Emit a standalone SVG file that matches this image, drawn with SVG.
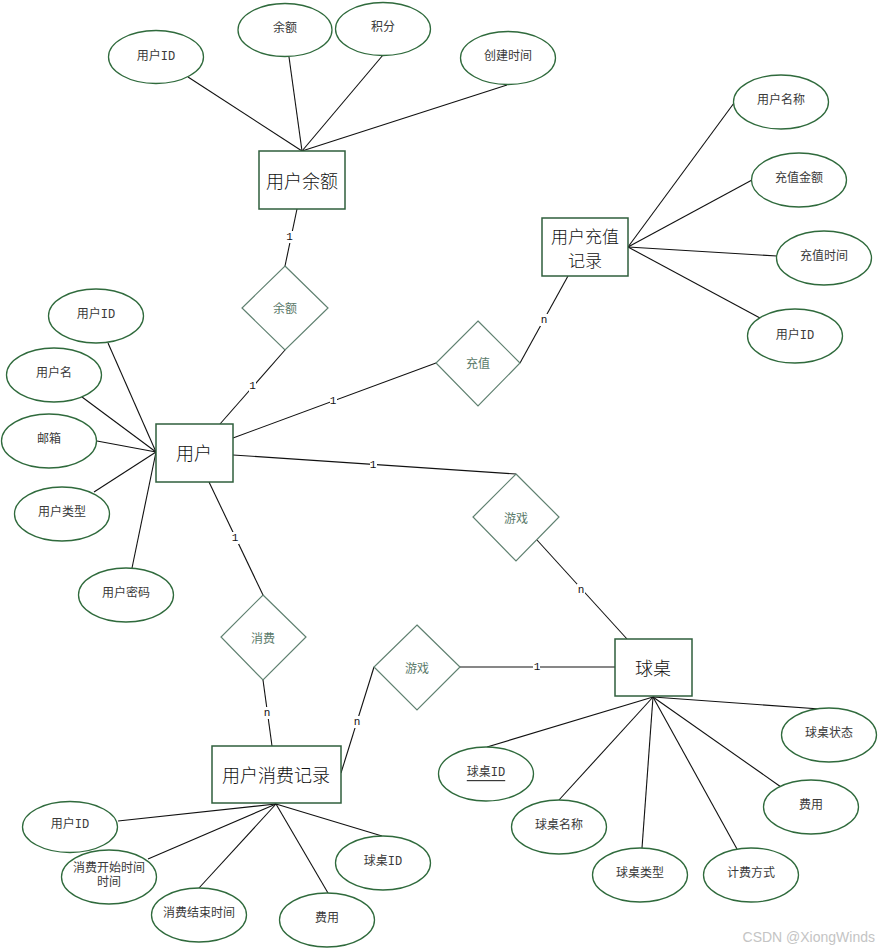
<svg xmlns="http://www.w3.org/2000/svg" width="879" height="951" viewBox="0 0 879 951">
<style>
.ent{fill:#fff;stroke:#2f5f3c;stroke-width:1.5}
.rel{fill:#fff;stroke:#5f8070;stroke-width:1.2}
.att{fill:#fff;stroke:#2f6a3c;stroke-width:1.3}
.et{font-family:"Noto Sans CJK SC",sans-serif;font-size:18px;font-weight:300;fill:#111;text-anchor:middle;dominant-baseline:central}
.rt{font-family:"Noto Sans CJK SC",sans-serif;font-size:12px;fill:#5a7a6a;text-anchor:middle;dominant-baseline:central}
.at{font-family:"Liberation Mono","Noto Sans CJK SC",monospace;font-size:12px;fill:#3a3a3a;text-anchor:middle;dominant-baseline:central}
.ln{stroke:#111;stroke-width:1.1;fill:none}
.card{font-family:"Liberation Mono",monospace;font-size:11px;fill:#111;text-anchor:middle;dominant-baseline:central}
.cbg{fill:#fff}
</style>
<g id="connectors">
<line class="ln" x1="188" y1="77" x2="302" y2="151"/>
<line class="ln" x1="289" y1="57" x2="302" y2="151"/>
<line class="ln" x1="383" y1="55" x2="302" y2="151"/>
<line class="ln" x1="507" y1="85" x2="302" y2="151"/>
<line class="ln" x1="734" y1="103" x2="628" y2="247"/>
<line class="ln" x1="752" y1="180" x2="628" y2="247"/>
<line class="ln" x1="777" y1="256" x2="628" y2="247"/>
<line class="ln" x1="760" y1="318" x2="628" y2="247"/>
<line class="ln" x1="108" y1="343" x2="156" y2="452"/>
<line class="ln" x1="82" y1="397" x2="156" y2="452"/>
<line class="ln" x1="97" y1="441" x2="156" y2="452"/>
<line class="ln" x1="94" y1="492" x2="156" y2="452"/>
<line class="ln" x1="132" y1="568" x2="156" y2="452"/>
<line class="ln" x1="118" y1="821" x2="276" y2="804"/>
<line class="ln" x1="148" y1="859" x2="276" y2="804"/>
<line class="ln" x1="199" y1="888" x2="276" y2="804"/>
<line class="ln" x1="328" y1="893" x2="276" y2="804"/>
<line class="ln" x1="382" y1="836" x2="276" y2="804"/>
<line class="ln" x1="487" y1="747" x2="653" y2="697"/>
<line class="ln" x1="559" y1="800" x2="653" y2="697"/>
<line class="ln" x1="642" y1="848" x2="653" y2="697"/>
<line class="ln" x1="737" y1="849" x2="653" y2="697"/>
<line class="ln" x1="781" y1="787" x2="653" y2="697"/>
<line class="ln" x1="820" y1="709" x2="653" y2="697"/>
<line class="ln" x1="297" y1="209" x2="285" y2="266"/>
<line class="ln" x1="285" y1="350" x2="220" y2="424"/>
<line class="ln" x1="233" y1="438" x2="436" y2="363"/>
<line class="ln" x1="520" y1="363" x2="568" y2="276"/>
<line class="ln" x1="233" y1="455" x2="516" y2="474"/>
<line class="ln" x1="537" y1="540" x2="627" y2="639"/>
<line class="ln" x1="209" y1="482" x2="263" y2="595"/>
<line class="ln" x1="263" y1="680" x2="272" y2="746"/>
<line class="ln" x1="374" y1="667" x2="341" y2="773"/>
<line class="ln" x1="460" y1="667" x2="615" y2="667"/>
<rect class="cbg" x="286" y="231" width="7" height="12"/><text class="card" x="289.5" y="237">1</text>
<rect class="cbg" x="249" y="380" width="7" height="12"/><text class="card" x="252.5" y="386">1</text>
<rect class="cbg" x="330" y="395" width="7" height="12"/><text class="card" x="333" y="401">1</text>
<rect class="cbg" x="540" y="314" width="8" height="12"/><text class="card" x="544" y="320">n</text>
<rect class="cbg" x="370" y="459" width="7" height="12"/><text class="card" x="373" y="465">1</text>
<rect class="cbg" x="577" y="584" width="8" height="12"/><text class="card" x="581" y="590">n</text>
<rect class="cbg" x="232" y="532" width="7" height="12"/><text class="card" x="235" y="538">1</text>
<rect class="cbg" x="263" y="707" width="8" height="12"/><text class="card" x="267" y="713">n</text>
<rect class="cbg" x="353" y="716" width="8" height="12"/><text class="card" x="357" y="722">n</text>
<rect class="cbg" x="533" y="661" width="7" height="12"/><text class="card" x="537" y="667">1</text>
</g>
<g id="e_yonghuyue"><rect class="ent" x="259" y="151" width="86" height="58"/><text class="et" x="302" y="180">用户余额</text></g>
<g id="e_chongzhi"><rect class="ent" x="542" y="218" width="86" height="58"/><text class="et" x="585" y="235" style="font-size:17px">用户充值</text><text class="et" x="585" y="259" style="font-size:17px">记录</text></g>
<g id="e_yonghu"><rect class="ent" x="156" y="424" width="77" height="58"/><text class="et" x="194" y="452">用户</text></g>
<g id="e_qiuzhuo"><rect class="ent" x="615" y="639" width="77" height="57"/><text class="et" x="653" y="667">球桌</text></g>
<g id="e_xiaofei"><rect class="ent" x="212" y="746" width="129" height="57"/><text class="et" x="276" y="774">用户消费记录</text></g>
<g id="r_yue"><polygon class="rel" points="285,266 328,308 285,350 242,308"/><text class="rt" x="285" y="307">余额</text></g>
<g id="r_chongzhi"><polygon class="rel" points="478,321 520,363 478,406 436,363"/><text class="rt" x="478" y="362">充值</text></g>
<g id="r_youxi1"><polygon class="rel" points="516,474 559,517 516,561 473,517"/><text class="rt" x="516" y="517">游戏</text></g>
<g id="r_xiaofei"><polygon class="rel" points="263,595 306,637 263,680 221,637"/><text class="rt" x="263" y="637">消费</text></g>
<g id="r_youxi2"><polygon class="rel" points="417,625 460,667 417,710 374,667"/><text class="rt" x="417" y="667">游戏</text></g>
<g id="a_ye_id"><ellipse class="att" cx="156" cy="57" rx="47.5" ry="26.5"/><text class="at" x="156" y="57">用户ID</text></g>
<g id="a_ye_yue"><ellipse class="att" cx="285" cy="30" rx="47" ry="26.5"/><text class="at" x="285" y="29">余额</text></g>
<g id="a_ye_jf"><ellipse class="att" cx="383" cy="29" rx="47.5" ry="26.5"/><text class="at" x="383" y="28">积分</text></g>
<g id="a_ye_cj"><ellipse class="att" cx="508" cy="58" rx="47.5" ry="26.5"/><text class="at" x="508" y="57">创建时间</text></g>
<g id="a_cz_mc"><ellipse class="att" cx="781" cy="102" rx="47.5" ry="27"/><text class="at" x="781" y="101">用户名称</text></g>
<g id="a_cz_je"><ellipse class="att" cx="799" cy="180" rx="47.5" ry="27"/><text class="at" x="799" y="179">充值金额</text></g>
<g id="a_cz_sj"><ellipse class="att" cx="824" cy="258" rx="47.5" ry="27"/><text class="at" x="824" y="257">充值时间</text></g>
<g id="a_cz_id"><ellipse class="att" cx="795" cy="336" rx="47.5" ry="27"/><text class="at" x="795" y="336">用户ID</text></g>
<g id="a_yh_id"><ellipse class="att" cx="96" cy="316" rx="47.5" ry="27"/><text class="at" x="96" y="315">用户ID</text></g>
<g id="a_yh_m"><ellipse class="att" cx="54" cy="375" rx="47.5" ry="27"/><text class="at" x="54" y="374">用户名</text></g>
<g id="a_yh_yx"><ellipse class="att" cx="49" cy="441" rx="47.5" ry="27"/><text class="at" x="49" y="440">邮箱</text></g>
<g id="a_yh_lx"><ellipse class="att" cx="62" cy="514" rx="47.5" ry="27"/><text class="at" x="62" y="513">用户类型</text></g>
<g id="a_yh_mm"><ellipse class="att" cx="126" cy="595" rx="47.5" ry="27"/><text class="at" x="126" y="594">用户密码</text></g>
<g id="a_xf_id"><ellipse class="att" cx="70" cy="827" rx="47.5" ry="25.5"/><text class="at" x="70" y="825">用户ID</text></g>
<g id="a_xf_ks"><ellipse class="att" cx="109" cy="877" rx="47.5" ry="27"/><text class="at" x="109" y="869">消费开始时间</text><text class="at" x="109" y="883">时间</text></g>
<g id="a_xf_js"><ellipse class="att" cx="199" cy="915" rx="47.5" ry="27"/><text class="at" x="199" y="914">消费结束时间</text></g>
<g id="a_xf_fy"><ellipse class="att" cx="327" cy="920" rx="47.5" ry="27"/><text class="at" x="327" y="919">费用</text></g>
<g id="a_xf_qz"><ellipse class="att" cx="383" cy="863" rx="47.5" ry="27"/><text class="at" x="383" y="862">球桌ID</text></g>
<g id="a_qz_id"><ellipse class="att" cx="486" cy="774" rx="47.5" ry="27"/><text class="at" x="486" y="773" text-decoration="underline">球桌ID</text></g>
<g id="a_qz_mc"><ellipse class="att" cx="559" cy="827" rx="47.5" ry="27"/><text class="at" x="559" y="826">球桌名称</text></g>
<g id="a_qz_lx"><ellipse class="att" cx="640" cy="875" rx="47.5" ry="27"/><text class="at" x="640" y="874">球桌类型</text></g>
<g id="a_qz_jf"><ellipse class="att" cx="751" cy="875" rx="47.5" ry="27"/><text class="at" x="751" y="874">计费方式</text></g>
<g id="a_qz_fy"><ellipse class="att" cx="811" cy="807" rx="47.5" ry="27"/><text class="at" x="811" y="806">费用</text></g>
<g id="a_qz_zt"><ellipse class="att" cx="829" cy="735" rx="47.5" ry="27"/><text class="at" x="829" y="734">球桌状态</text></g>
<text x="875" y="942" font-family="Liberation Sans,Arial,sans-serif" font-size="14" fill="#c4c4c4" text-anchor="end">CSDN @XiongWinds</text>
</svg>
